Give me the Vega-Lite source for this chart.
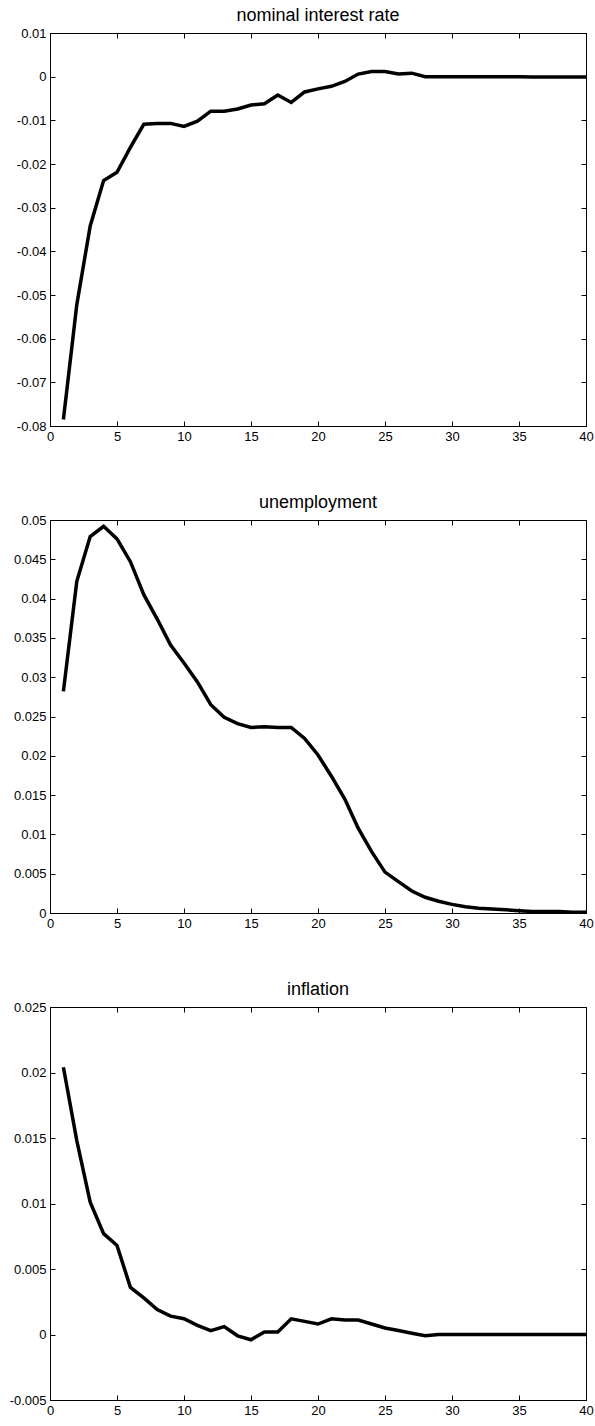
{
  "$schema": "https://vega.github.io/schema/vega-lite/v6.json",
  "background": "white",
  "padding": {"left": 8, "top": 6, "right": 9, "bottom": 4},
  "spacing": 94,
  "bounds": "flush",
  "config": {
    "font": "Liberation Sans",
    "view": {"stroke": "black", "strokeWidth": 1},
    "axis": {
      "grid": false,
      "domainColor": "black",
      "domainWidth": 1,
      "tickColor": "black",
      "tickWidth": 1,
      "tickSize": -5,
      "labelColor": "black",
      "labelFont": "Liberation Sans",
      "labelFontSize": 13,
      "labelPadding": 9,
      "labelFlush": false,
      "labelOverlap": false
    },
    "title": {"font": "Liberation Sans", "fontSize": 18, "fontWeight": "normal", "color": "black", "offset": 2, "anchor": "middle"}
  },
  "datasets": {
    "nir": [
      {"t": 1, "v": -0.0785}, {"t": 2, "v": -0.0522}, {"t": 3, "v": -0.0342}, {"t": 4, "v": -0.0238},
      {"t": 5, "v": -0.0219}, {"t": 6, "v": -0.0162}, {"t": 7, "v": -0.0109}, {"t": 8, "v": -0.0107},
      {"t": 9, "v": -0.0107}, {"t": 10, "v": -0.0114}, {"t": 11, "v": -0.0102}, {"t": 12, "v": -0.0079},
      {"t": 13, "v": -0.0079}, {"t": 14, "v": -0.0074}, {"t": 15, "v": -0.0065}, {"t": 16, "v": -0.0062},
      {"t": 17, "v": -0.0042}, {"t": 18, "v": -0.0059}, {"t": 19, "v": -0.0035}, {"t": 20, "v": -0.0028},
      {"t": 21, "v": -0.0022}, {"t": 22, "v": -0.0011}, {"t": 23, "v": 0.0006}, {"t": 24, "v": 0.0012},
      {"t": 25, "v": 0.0012}, {"t": 26, "v": 0.0006}, {"t": 27, "v": 0.0008}, {"t": 28, "v": 0.0},
      {"t": 29, "v": 0.0}, {"t": 30, "v": 0.0}, {"t": 31, "v": 0.0}, {"t": 32, "v": 0.0},
      {"t": 33, "v": 0.0}, {"t": 34, "v": 0.0}, {"t": 35, "v": 0.0}, {"t": 36, "v": -0.0001},
      {"t": 37, "v": -0.0001}, {"t": 38, "v": -0.0001}, {"t": 39, "v": -0.0001}, {"t": 40, "v": -0.0001}
    ],
    "unemp": [
      {"t": 1, "v": 0.0282}, {"t": 2, "v": 0.0422}, {"t": 3, "v": 0.0479}, {"t": 4, "v": 0.0492},
      {"t": 5, "v": 0.0476}, {"t": 6, "v": 0.0447}, {"t": 7, "v": 0.0405}, {"t": 8, "v": 0.0374},
      {"t": 9, "v": 0.0341}, {"t": 10, "v": 0.0318}, {"t": 11, "v": 0.0294}, {"t": 12, "v": 0.0265},
      {"t": 13, "v": 0.0249}, {"t": 14, "v": 0.0241}, {"t": 15, "v": 0.0236}, {"t": 16, "v": 0.0237},
      {"t": 17, "v": 0.0236}, {"t": 18, "v": 0.0236}, {"t": 19, "v": 0.0222}, {"t": 20, "v": 0.0201},
      {"t": 21, "v": 0.0174}, {"t": 22, "v": 0.0145}, {"t": 23, "v": 0.0108}, {"t": 24, "v": 0.0078},
      {"t": 25, "v": 0.0052}, {"t": 26, "v": 0.004}, {"t": 27, "v": 0.0028}, {"t": 28, "v": 0.002},
      {"t": 29, "v": 0.0015}, {"t": 30, "v": 0.0011}, {"t": 31, "v": 0.0008}, {"t": 32, "v": 0.0006},
      {"t": 33, "v": 0.0005}, {"t": 34, "v": 0.0004}, {"t": 35, "v": 0.0003}, {"t": 36, "v": 0.0002},
      {"t": 37, "v": 0.0002}, {"t": 38, "v": 0.0002}, {"t": 39, "v": 0.0001}, {"t": 40, "v": 0.0001}
    ],
    "infl": [
      {"t": 1, "v": 0.0204}, {"t": 2, "v": 0.0148}, {"t": 3, "v": 0.0101}, {"t": 4, "v": 0.0077},
      {"t": 5, "v": 0.0068}, {"t": 6, "v": 0.0036}, {"t": 7, "v": 0.0028}, {"t": 8, "v": 0.0019},
      {"t": 9, "v": 0.0014}, {"t": 10, "v": 0.0012}, {"t": 11, "v": 0.0007}, {"t": 12, "v": 0.0003},
      {"t": 13, "v": 0.0006}, {"t": 14, "v": -0.0001}, {"t": 15, "v": -0.0004}, {"t": 16, "v": 0.0002},
      {"t": 17, "v": 0.0002}, {"t": 18, "v": 0.0012}, {"t": 19, "v": 0.001}, {"t": 20, "v": 0.0008},
      {"t": 21, "v": 0.0012}, {"t": 22, "v": 0.0011}, {"t": 23, "v": 0.0011}, {"t": 24, "v": 0.0008},
      {"t": 25, "v": 0.0005}, {"t": 26, "v": 0.0003}, {"t": 27, "v": 0.0001}, {"t": 28, "v": -0.0001},
      {"t": 29, "v": 0.0}, {"t": 30, "v": 0.0}, {"t": 31, "v": 0.0}, {"t": 32, "v": 0.0},
      {"t": 33, "v": 0.0}, {"t": 34, "v": 0.0}, {"t": 35, "v": 0.0}, {"t": 36, "v": 0.0},
      {"t": 37, "v": 0.0}, {"t": 38, "v": 0.0}, {"t": 39, "v": 0.0}, {"t": 40, "v": 0.0}
    ]
  },
  "vconcat": [
    {
      "width": 536, "height": 393,
      "title": "nominal interest rate",
      "data": {"name": "nir"},
      "resolve": {"axis": {"x": "independent", "y": "independent"}},
      "layer": [
        {
          "mark": {"type": "line", "color": "black", "strokeWidth": 3.5},
          "encoding": {
            "x": {"field": "t", "type": "quantitative", "title": null, "scale": {"domain": [0, 40], "nice": false, "zero": false},
                  "axis": {"orient": "bottom", "values": [0, 5, 10, 15, 20, 25, 30, 35, 40]}},
            "y": {"field": "v", "type": "quantitative", "title": null, "scale": {"domain": [-0.08, 0.01], "nice": false, "zero": false},
                  "axis": {"orient": "left", "values": [0.01, 0, -0.01, -0.02, -0.03, -0.04, -0.05, -0.06, -0.07, -0.08], "labelExpr": "'' + datum.value"}}
          }
        },
        {
          "mark": {"type": "line", "opacity": 0},
          "encoding": {
            "x": {"field": "t", "type": "quantitative", "title": null, "axis": {"orient": "top", "labels": false, "values": [0, 5, 10, 15, 20, 25, 30, 35, 40]}},
            "y": {"field": "v", "type": "quantitative", "title": null, "axis": {"orient": "right", "labels": false, "values": [0.01, 0, -0.01, -0.02, -0.03, -0.04, -0.05, -0.06, -0.07, -0.08]}}
          }
        }
      ]
    },
    {
      "width": 536, "height": 393,
      "title": "unemployment",
      "data": {"name": "unemp"},
      "resolve": {"axis": {"x": "independent", "y": "independent"}},
      "layer": [
        {
          "mark": {"type": "line", "color": "black", "strokeWidth": 3.5},
          "encoding": {
            "x": {"field": "t", "type": "quantitative", "title": null, "scale": {"domain": [0, 40], "nice": false, "zero": false},
                  "axis": {"orient": "bottom", "values": [0, 5, 10, 15, 20, 25, 30, 35, 40]}},
            "y": {"field": "v", "type": "quantitative", "title": null, "scale": {"domain": [0, 0.05], "nice": false, "zero": false},
                  "axis": {"orient": "left", "values": [0, 0.005, 0.01, 0.015, 0.02, 0.025, 0.03, 0.035, 0.04, 0.045, 0.05], "labelExpr": "'' + datum.value"}}
          }
        },
        {
          "mark": {"type": "line", "opacity": 0},
          "encoding": {
            "x": {"field": "t", "type": "quantitative", "title": null, "axis": {"orient": "top", "labels": false, "values": [0, 5, 10, 15, 20, 25, 30, 35, 40]}},
            "y": {"field": "v", "type": "quantitative", "title": null, "axis": {"orient": "right", "labels": false, "values": [0, 0.005, 0.01, 0.015, 0.02, 0.025, 0.03, 0.035, 0.04, 0.045, 0.05]}}
          }
        }
      ]
    },
    {
      "width": 536, "height": 393,
      "title": "inflation",
      "data": {"name": "infl"},
      "resolve": {"axis": {"x": "independent", "y": "independent"}},
      "layer": [
        {
          "mark": {"type": "line", "color": "black", "strokeWidth": 3.5},
          "encoding": {
            "x": {"field": "t", "type": "quantitative", "title": null, "scale": {"domain": [0, 40], "nice": false, "zero": false},
                  "axis": {"orient": "bottom", "values": [0, 5, 10, 15, 20, 25, 30, 35, 40]}},
            "y": {"field": "v", "type": "quantitative", "title": null, "scale": {"domain": [-0.005, 0.025], "nice": false, "zero": false},
                  "axis": {"orient": "left", "values": [-0.005, 0, 0.005, 0.01, 0.015, 0.02, 0.025], "labelExpr": "'' + datum.value"}}
          }
        },
        {
          "mark": {"type": "line", "opacity": 0},
          "encoding": {
            "x": {"field": "t", "type": "quantitative", "title": null, "axis": {"orient": "top", "labels": false, "values": [0, 5, 10, 15, 20, 25, 30, 35, 40]}},
            "y": {"field": "v", "type": "quantitative", "title": null, "axis": {"orient": "right", "labels": false, "values": [-0.005, 0, 0.005, 0.01, 0.015, 0.02, 0.025]}}
          }
        }
      ]
    }
  ]
}
